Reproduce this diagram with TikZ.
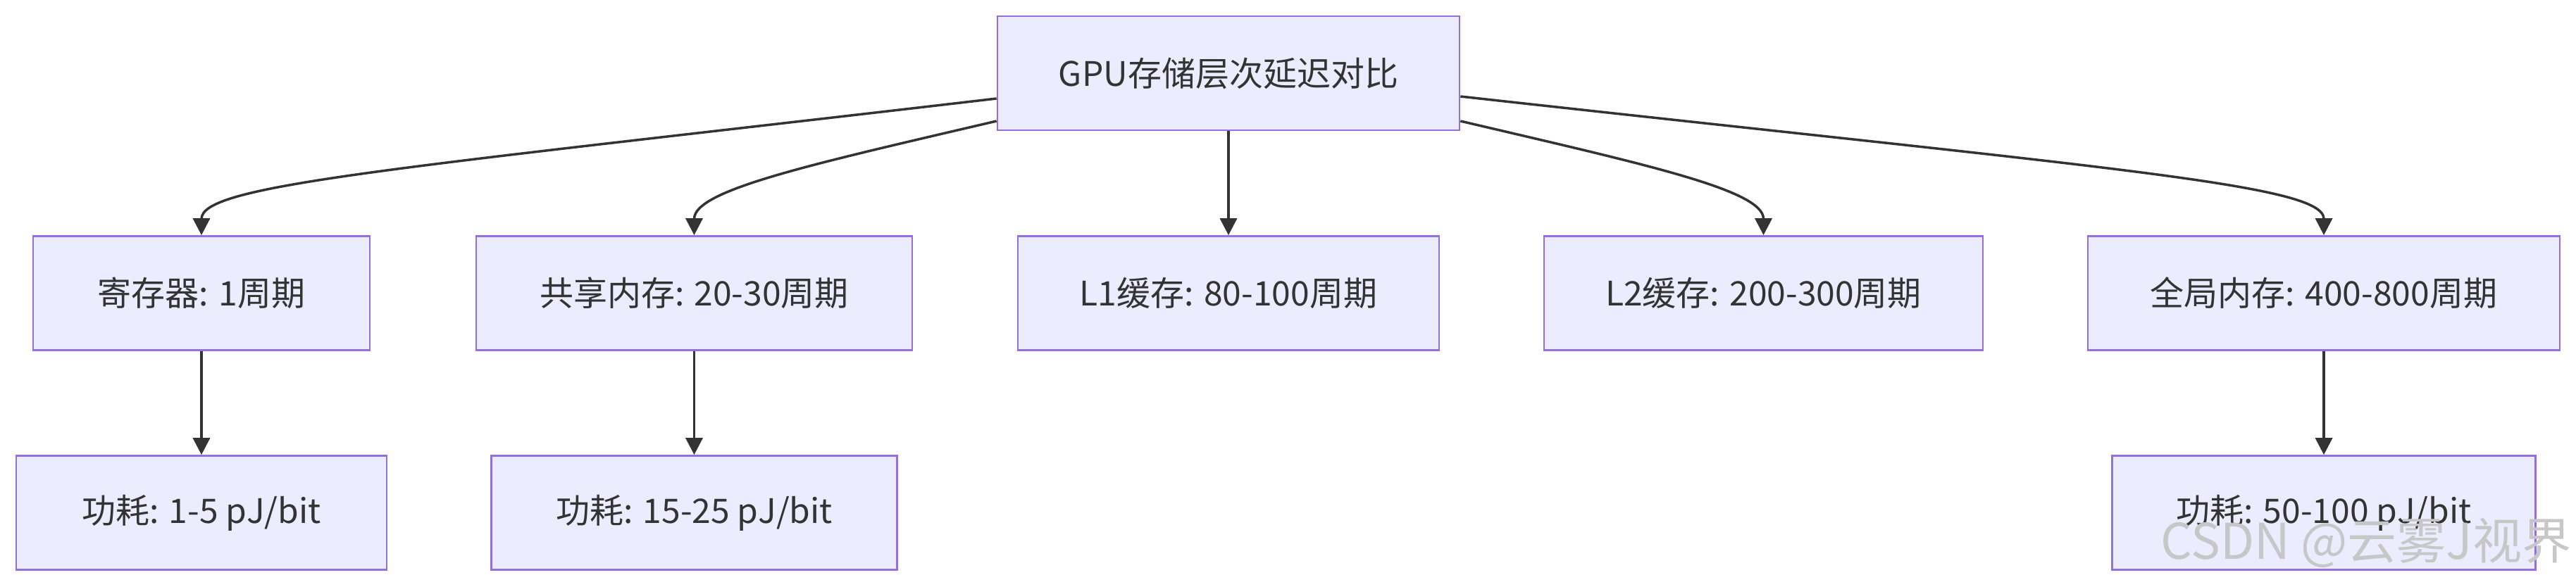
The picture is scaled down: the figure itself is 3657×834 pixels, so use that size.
\documentclass[tikz,border=0pt]{standalone}
\usepackage{fontspec}
\setmainfont{Noto Sans CJK SC}
\usetikzlibrary{arrows.meta,calc}
\definecolor{nodefill}{HTML}{ECECFF}
\definecolor{nodeline}{HTML}{9370DB}
\definecolor{ink}{HTML}{333333}
\begin{document}
\begin{tikzpicture}[x=1pt,y=-1pt,
  box/.style={draw=nodeline, fill=nodefill, line width=2.7pt, text=ink,
    font=\fontsize{48pt}{58pt}\selectfont, inner sep=0pt, minimum height=162pt},
  link/.style={draw=ink, line width=3.5pt, -{Triangle[length=24pt,width=24pt]}},
  wmark/.style={text=black!22, font=\fontsize{70pt}{80pt}\selectfont, inner sep=0pt}]
\fill[white] (0,0) rectangle (3657,834);
\useasboundingbox (0,0) rectangle (3657,834);
\node[box, minimum width=656pt] (top) at (1744,104) {GPU存储层次延迟对比};
\node[box, minimum width=478pt] (r1) at (286,416.5) {寄存器: 1周期};
\node[box, minimum width=619pt] (r2) at (985.5,416.5) {共享内存: 20-30周期};
\node[box, minimum width=598pt] (r3) at (1744,416.5) {L1缓存: 80-100周期};
\node[box, minimum width=623pt] (r4) at (2503.5,416.5) {L2缓存: 200-300周期};
\node[box, minimum width=670pt] (r5) at (3299,416.5) {全局内存: 400-800周期};
\node[box, minimum width=526pt] (b1) at (286,728.5) {功耗: 1-5 pJ/bit};
\node[box, minimum width=576pt] (b2) at (985.5,728.5) {功耗: 15-25 pJ/bit};
\node[box, minimum width=601pt] (b5) at (3299,728.5) {功耗: 50-100 pJ/bit};
\draw[link] ([yshift=-36pt]top.west) .. controls (560,240) and (286,262) .. (r1.north);
\draw[link] ([yshift=-68pt]top.west) .. controls (1150,234) and (985.5,270) .. (r2.north);
\draw[link] (top.south) -- (r3.north);
\draw[link] ([yshift=-68pt]top.east) .. controls (2337,234) and (2503.5,270) .. (r4.north);
\draw[link] ([yshift=-33pt]top.east) .. controls (3001,240) and (3299,262) .. (r5.north);
\draw[link] (r1.south) -- (b1.north);
\draw[link] (r2.south) -- (b2.north);
\draw[link] (r5.south) -- (b5.north);
\node[wmark] (wm) at (3359,771) {CSDN @云雾J视界};
\end{tikzpicture}
\end{document}
